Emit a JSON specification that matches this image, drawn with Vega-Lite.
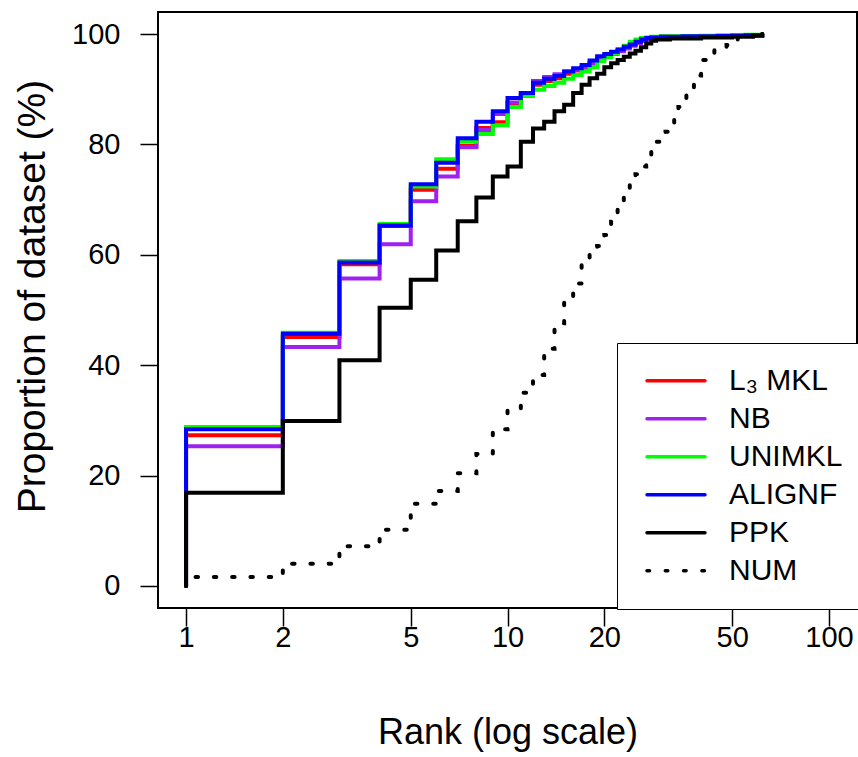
{
  "$schema": "https://vega.github.io/schema/vega-lite/v6.json",
  "width": 699,
  "height": 596,
  "autosize": "none",
  "padding": {"left": 158, "top": 12, "right": 1, "bottom": 149},
  "background": "white",
  "config": {
    "view": {"stroke": "black", "strokeWidth": 2},
    "font": "Liberation Sans",
    "axis": {"grid": false, "domain": false, "tickColor": "black", "tickWidth": 1.5, "tickSize": 18, "labelColor": "black", "titleColor": "black", "labelFont": "Liberation Sans", "titleFont": "Liberation Sans", "titleFontWeight": "normal", "labelFontSize": 29, "titleFontSize": 36},
    "legend": {"labelFont": "Liberation Sans"}
  },
  "data": {"values": [
    {"s":"L₃ MKL","r":1,"v":0},{"s":"L₃ MKL","r":1,"v":27.3},{"s":"L₃ MKL","r":2,"v":45.1},{"s":"L₃ MKL","r":3,"v":58.3},{"s":"L₃ MKL","r":4,"v":65.2},{"s":"L₃ MKL","r":5,"v":71.8},{"s":"L₃ MKL","r":6,"v":75.6},{"s":"L₃ MKL","r":7,"v":79.7},{"s":"L₃ MKL","r":8,"v":83.0},{"s":"L₃ MKL","r":9,"v":84.0},{"s":"L₃ MKL","r":10,"v":87.5},{"s":"L₃ MKL","r":11,"v":89.3},{"s":"L₃ MKL","r":12,"v":90.8},{"s":"L₃ MKL","r":13,"v":91.5},{"s":"L₃ MKL","r":14,"v":92.0},{"s":"L₃ MKL","r":15,"v":92.8},{"s":"L₃ MKL","r":16,"v":93.4},{"s":"L₃ MKL","r":17,"v":94.0},{"s":"L₃ MKL","r":18,"v":94.8},{"s":"L₃ MKL","r":19,"v":95.6},{"s":"L₃ MKL","r":20,"v":96.1},{"s":"L₃ MKL","r":21,"v":96.6},{"s":"L₃ MKL","r":22,"v":97.0},{"s":"L₃ MKL","r":23,"v":97.5},{"s":"L₃ MKL","r":24,"v":98.0},{"s":"L₃ MKL","r":25,"v":98.5},{"s":"L₃ MKL","r":26,"v":98.9},{"s":"L₃ MKL","r":27,"v":99.2},{"s":"L₃ MKL","r":28,"v":99.4},{"s":"L₃ MKL","r":30,"v":99.5},{"s":"L₃ MKL","r":40,"v":99.6},{"s":"L₃ MKL","r":50,"v":99.8},{"s":"L₃ MKL","r":62,"v":100},
    {"s":"NB","r":1,"v":0},{"s":"NB","r":1,"v":25.3},{"s":"NB","r":2,"v":43.3},{"s":"NB","r":3,"v":55.7},{"s":"NB","r":4,"v":61.9},{"s":"NB","r":5,"v":69.7},{"s":"NB","r":6,"v":74.2},{"s":"NB","r":7,"v":79.5},{"s":"NB","r":8,"v":82.6},{"s":"NB","r":9,"v":85.5},{"s":"NB","r":10,"v":87.6},{"s":"NB","r":11,"v":89.0},{"s":"NB","r":12,"v":91.5},{"s":"NB","r":13,"v":92.2},{"s":"NB","r":14,"v":92.7},{"s":"NB","r":15,"v":93.2},{"s":"NB","r":16,"v":93.6},{"s":"NB","r":17,"v":93.9},{"s":"NB","r":18,"v":94.6},{"s":"NB","r":19,"v":95.4},{"s":"NB","r":20,"v":95.9},{"s":"NB","r":21,"v":96.4},{"s":"NB","r":22,"v":96.9},{"s":"NB","r":23,"v":97.4},{"s":"NB","r":24,"v":97.9},{"s":"NB","r":25,"v":98.4},{"s":"NB","r":26,"v":98.8},{"s":"NB","r":27,"v":99.1},{"s":"NB","r":28,"v":99.3},{"s":"NB","r":30,"v":99.5},{"s":"NB","r":40,"v":99.6},{"s":"NB","r":50,"v":99.8},{"s":"NB","r":62,"v":100},
    {"s":"UNIMKL","r":1,"v":0},{"s":"UNIMKL","r":1,"v":28.8},{"s":"UNIMKL","r":2,"v":45.9},{"s":"UNIMKL","r":3,"v":58.9},{"s":"UNIMKL","r":4,"v":65.6},{"s":"UNIMKL","r":5,"v":72.4},{"s":"UNIMKL","r":6,"v":77.3},{"s":"UNIMKL","r":7,"v":80.5},{"s":"UNIMKL","r":8,"v":81.9},{"s":"UNIMKL","r":9,"v":83.5},{"s":"UNIMKL","r":10,"v":86.8},{"s":"UNIMKL","r":11,"v":88.8},{"s":"UNIMKL","r":12,"v":89.9},{"s":"UNIMKL","r":13,"v":90.6},{"s":"UNIMKL","r":14,"v":91.2},{"s":"UNIMKL","r":15,"v":91.9},{"s":"UNIMKL","r":16,"v":92.6},{"s":"UNIMKL","r":17,"v":93.2},{"s":"UNIMKL","r":18,"v":94.0},{"s":"UNIMKL","r":19,"v":95.1},{"s":"UNIMKL","r":20,"v":95.8},{"s":"UNIMKL","r":21,"v":96.5},{"s":"UNIMKL","r":22,"v":97.2},{"s":"UNIMKL","r":23,"v":97.9},{"s":"UNIMKL","r":24,"v":98.6},{"s":"UNIMKL","r":25,"v":99.0},{"s":"UNIMKL","r":26,"v":99.3},{"s":"UNIMKL","r":27,"v":99.4},{"s":"UNIMKL","r":28,"v":99.5},{"s":"UNIMKL","r":30,"v":99.6},{"s":"UNIMKL","r":40,"v":99.7},{"s":"UNIMKL","r":50,"v":99.8},{"s":"UNIMKL","r":55,"v":99.9},{"s":"UNIMKL","r":62,"v":100},
    {"s":"ALIGNF","r":1,"v":0},{"s":"ALIGNF","r":1,"v":28.4},{"s":"ALIGNF","r":2,"v":45.7},{"s":"ALIGNF","r":3,"v":58.6},{"s":"ALIGNF","r":4,"v":65.3},{"s":"ALIGNF","r":5,"v":72.8},{"s":"ALIGNF","r":6,"v":76.7},{"s":"ALIGNF","r":7,"v":81.1},{"s":"ALIGNF","r":8,"v":84.1},{"s":"ALIGNF","r":9,"v":86.0},{"s":"ALIGNF","r":10,"v":88.4},{"s":"ALIGNF","r":11,"v":89.3},{"s":"ALIGNF","r":12,"v":91.2},{"s":"ALIGNF","r":13,"v":91.9},{"s":"ALIGNF","r":14,"v":92.4},{"s":"ALIGNF","r":15,"v":93.2},{"s":"ALIGNF","r":16,"v":93.8},{"s":"ALIGNF","r":17,"v":94.4},{"s":"ALIGNF","r":18,"v":95.2},{"s":"ALIGNF","r":19,"v":96.0},{"s":"ALIGNF","r":20,"v":96.4},{"s":"ALIGNF","r":21,"v":96.8},{"s":"ALIGNF","r":22,"v":97.2},{"s":"ALIGNF","r":23,"v":97.7},{"s":"ALIGNF","r":24,"v":98.1},{"s":"ALIGNF","r":25,"v":98.6},{"s":"ALIGNF","r":26,"v":99.0},{"s":"ALIGNF","r":27,"v":99.3},{"s":"ALIGNF","r":28,"v":99.4},{"s":"ALIGNF","r":30,"v":99.5},{"s":"ALIGNF","r":35,"v":99.6},{"s":"ALIGNF","r":45,"v":99.7},{"s":"ALIGNF","r":55,"v":99.8},{"s":"ALIGNF","r":62,"v":100},
    {"s":"PPK","r":1,"v":0},{"s":"PPK","r":1,"v":16.9},{"s":"PPK","r":2,"v":29.9},{"s":"PPK","r":3,"v":40.9},{"s":"PPK","r":4,"v":50.4},{"s":"PPK","r":5,"v":55.5},{"s":"PPK","r":6,"v":60.8},{"s":"PPK","r":7,"v":66.1},{"s":"PPK","r":8,"v":70.4},{"s":"PPK","r":9,"v":74.2},{"s":"PPK","r":10,"v":76.0},{"s":"PPK","r":11,"v":80.5},{"s":"PPK","r":12,"v":82.9},{"s":"PPK","r":13,"v":84.1},{"s":"PPK","r":14,"v":86.0},{"s":"PPK","r":15,"v":87.2},{"s":"PPK","r":16,"v":89.3},{"s":"PPK","r":17,"v":90.8},{"s":"PPK","r":18,"v":92.0},{"s":"PPK","r":19,"v":92.8},{"s":"PPK","r":20,"v":94.0},{"s":"PPK","r":21,"v":94.7},{"s":"PPK","r":22,"v":95.3},{"s":"PPK","r":23,"v":95.9},{"s":"PPK","r":24,"v":96.5},{"s":"PPK","r":25,"v":97.0},{"s":"PPK","r":26,"v":97.6},{"s":"PPK","r":27,"v":98.3},{"s":"PPK","r":28,"v":98.8},{"s":"PPK","r":29,"v":99.0},{"s":"PPK","r":32,"v":99.2},{"s":"PPK","r":40,"v":99.4},{"s":"PPK","r":50,"v":99.5},{"s":"PPK","r":58,"v":99.7},{"s":"PPK","r":62,"v":100},
    {"s":"NUM","r":1,"v":0},{"s":"NUM","r":1,"v":1.6},{"s":"NUM","r":2,"v":4.0},{"s":"NUM","r":3,"v":7.2},{"s":"NUM","r":4,"v":10.2},{"s":"NUM","r":5,"v":14.9},{"s":"NUM","r":6,"v":17.2},{"s":"NUM","r":7,"v":20.4},{"s":"NUM","r":8,"v":23.9},{"s":"NUM","r":9,"v":28.4},{"s":"NUM","r":10,"v":31.8},{"s":"NUM","r":11,"v":35.0},{"s":"NUM","r":12,"v":38.2},{"s":"NUM","r":13,"v":43.0},{"s":"NUM","r":14,"v":47.6},{"s":"NUM","r":15,"v":51.4},{"s":"NUM","r":16,"v":54.8},{"s":"NUM","r":17,"v":58.2},{"s":"NUM","r":18,"v":60.6},{"s":"NUM","r":19,"v":61.6},{"s":"NUM","r":20,"v":63.6},{"s":"NUM","r":21,"v":66.0},{"s":"NUM","r":22,"v":68.3},{"s":"NUM","r":23,"v":70.5},{"s":"NUM","r":24,"v":72.8},{"s":"NUM","r":25,"v":74.6},{"s":"NUM","r":26,"v":76.0},{"s":"NUM","r":27,"v":77.6},{"s":"NUM","r":28,"v":79.2},{"s":"NUM","r":29,"v":80.5},{"s":"NUM","r":30,"v":81.5},{"s":"NUM","r":31,"v":82.3},{"s":"NUM","r":32,"v":83.4},{"s":"NUM","r":33,"v":85.5},{"s":"NUM","r":34,"v":86.8},{"s":"NUM","r":35,"v":88.0},{"s":"NUM","r":36,"v":89.2},{"s":"NUM","r":37,"v":90.3},{"s":"NUM","r":38,"v":91.4},{"s":"NUM","r":39,"v":92.5},{"s":"NUM","r":40,"v":95.3},{"s":"NUM","r":42,"v":96.5},{"s":"NUM","r":44,"v":97.4},{"s":"NUM","r":48,"v":98.0},{"s":"NUM","r":52,"v":99.4},{"s":"NUM","r":58,"v":99.7},{"s":"NUM","r":62,"v":100}
  ]},
  "mark": {"type": "line", "interpolate": "step-after", "strokeWidth": 4, "strokeCap": "round", "clip": true},
  "encoding": {
    "x": {"field": "r", "type": "quantitative",
      "scale": {"type": "log", "domain": [0.818, 122.2], "nice": false},
      "axis": {"values": [1, 2, 5, 10, 20, 50, 100], "format": "d", "labelPadding": -3, "title": "Rank (log scale)", "titleY": 135, "titleBaseline": "alphabetic"}},
    "y": {"field": "v", "type": "quantitative",
      "scale": {"domain": [-4, 104], "nice": false, "zero": false},
      "axis": {"values": [0, 20, 40, 60, 80, 100], "labelPadding": 20, "title": "Proportion of dataset (%)", "titleFontSize": 39, "titleX": -114, "titleY": 284, "titleBaseline": "alphabetic"}},
    "color": {"field": "s", "type": "nominal",
      "scale": {"domain": ["L₃ MKL", "NB", "UNIMKL", "ALIGNF", "PPK", "NUM"], "range": ["#FF0000", "#A020F0", "#00FF00", "#0000FF", "#000000", "#000000"]},
      "legend": {"title": null, "orient": "none", "legendX": 459, "legendY": 331, "strokeColor": "black", "fillColor": "white", "padding": 19, "clipHeight": 37.5, "rowPadding": 0, "symbolType": "stroke", "symbolSize": 3364, "symbolStrokeWidth": 3.5, "symbolOffset": 9, "labelFontSize": 30, "labelOffset": 22, "labelColor": "black",
        "encode": {"symbols": {"update": {"strokeCap": {"value": "round"}}}}}},
    "strokeDash": {"field": "s", "type": "nominal",
      "scale": {"domain": ["L₃ MKL", "NB", "UNIMKL", "ALIGNF", "PPK", "NUM"], "range": [[1, 0], [1, 0], [1, 0], [1, 0], [1, 0], [2.5, 15.8]]},
      "legend": {"title": null, "orient": "none", "legendX": 459, "legendY": 331, "strokeColor": "black", "fillColor": "white", "padding": 19, "clipHeight": 37.5, "rowPadding": 0, "symbolType": "stroke", "symbolSize": 3364, "symbolStrokeWidth": 3.5, "symbolOffset": 9, "labelFontSize": 30, "labelOffset": 22, "labelColor": "black",
        "encode": {"symbols": {"update": {"strokeCap": {"value": "round"}}}}}},
    "order": {"value": null}
  }
}
